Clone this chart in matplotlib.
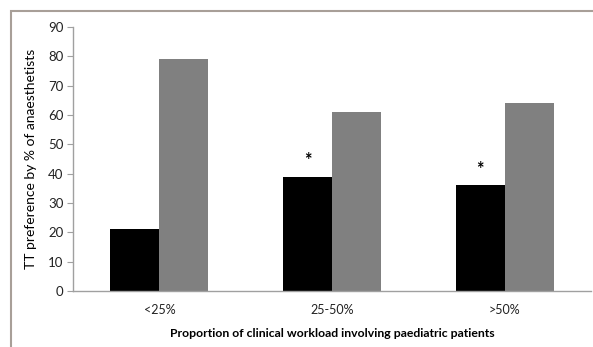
import numpy as np
import matplotlib.pyplot as plt
from matplotlib.patches import Rectangle

# workload groups and % of anaesthetists
categories = ['<25%', '25-50%', '>50%']
black_vals = [21, 39, 36]
gray_vals = [79, 61, 64]
star_groups = [1, 2]  # groups with a significance asterisk

plt.rcParams['font.family'] = ['Lato', 'DejaVu Sans']

fig = plt.figure(figsize=(5.93, 3.47), dpi=100)
ax = fig.add_axes([73 / 593, 1 - 291 / 347, 518 / 593, 264 / 347])

x = np.arange(len(categories))
w = 0.284
ax.bar(x - w / 2, black_vals, w, color='black')
ax.bar(x + w / 2, gray_vals, w, color='#808080')

for i in star_groups:
    ax.text(x[i] - w / 2, black_vals[i] + 5.5, '*', ha='center', va='center',
            fontsize=13, fontweight='bold')

ax.set_xlim(-0.5, len(categories) - 0.5)
ax.set_ylim(0, 90)
ax.set_yticks(range(0, 91, 10))
ax.set_xticks(x)
ax.set_xticklabels(categories)
ax.tick_params(axis='x', length=0, pad=9, labelsize=9, colors='#222222')
ax.tick_params(axis='y', length=4, width=0.8, color='#a0a0a0', labelsize=9.5,
               pad=3, labelcolor='#222222')

for s in ['top', 'right']:
    ax.spines[s].set_visible(False)
for s in ['left', 'bottom']:
    ax.spines[s].set_color('#a0a0a0')
    ax.spines[s].set_linewidth(1)

ax.set_ylabel('TT preference by % of anaesthetists', fontsize=10, labelpad=8)
ax.set_xlabel('Proportion of clinical workload involving paediatric patients',
              fontsize=8.8, fontweight='bold', labelpad=9)

# outer chart frame
fig.patches.append(Rectangle((11 / 593, -0.1), 1.2, (336 / 347) + 0.1,
                             transform=fig.transFigure, fill=False,
                             edgecolor='#a89f98', linewidth=1.5))

fig.savefig('out.png', dpi=100)
